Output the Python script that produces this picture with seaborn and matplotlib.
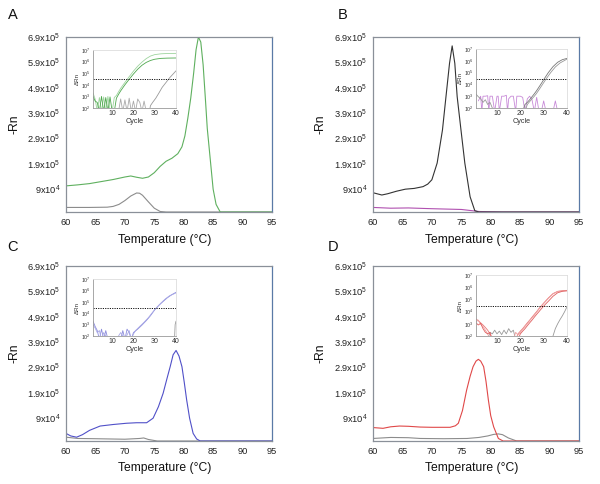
import numpy as np
import pandas as pd
import matplotlib
matplotlib.use("Agg")
import matplotlib.pyplot as plt
import seaborn as sns

sns.set_theme(style="white")
plt.rcParams['font.family'] = ['Liberation Sans', 'DejaVu Sans']
plt.rcParams['mathtext.fontset'] = 'custom'
plt.rcParams['mathtext.rm'] = 'Liberation Sans'
plt.rcParams['mathtext.it'] = 'Liberation Sans:italic'
plt.rcParams['mathtext.bf'] = 'Liberation Sans:bold'

# ---------------- melt curves (temperature in °C, -Rn in units of 1e5) -------------
A_green_t = [60, 62, 64, 66, 68, 70, 71, 72, 73, 74, 75, 76, 77, 78, 79, 79.7, 80.2, 80.7, 81.2,
             81.7, 82.1, 82.5, 82.9, 83.3, 83.7, 84.0, 84.5, 85.0, 85.5, 86.2, 95]
A_green_v = [1.03, 1.07, 1.12, 1.2, 1.28, 1.38, 1.42, 1.37, 1.33, 1.38, 1.55, 1.8, 2.0, 2.12, 2.3,
             2.57, 3.0, 3.7, 4.5, 5.5, 6.4, 6.9, 6.7, 5.8, 4.4, 3.3, 2.1, 0.9, 0.3, 0.0, 0.0]
A_gray_t = [60, 64, 67, 68, 69, 70, 71, 72, 72.5, 73, 74, 75, 76, 77, 95]
A_gray_v = [0.18, 0.18, 0.19, 0.22, 0.3, 0.45, 0.63, 0.75, 0.74, 0.66, 0.4, 0.15, 0.02, 0.0, 0.0]

B_black_t = [60, 61, 61.5, 62.5, 64, 65.5, 67, 68.5, 69.3, 70.0, 70.9, 71.8, 72.4, 73.0, 73.45,
             73.9, 74.3, 74.95, 75.6, 76.5, 77.3, 78, 95]
B_black_v = [0.76, 0.7, 0.67, 0.72, 0.82, 0.9, 0.93, 1.0, 1.1, 1.27, 1.93, 3.23, 4.55, 5.86, 6.55,
             5.86, 4.55, 3.23, 1.93, 0.6, 0.05, 0.0, 0.0]
B_mag_t = [60, 63, 66, 70, 75, 78, 82, 95]
B_mag_v = [0.18, 0.15, 0.16, 0.13, 0.1, 0.02, 0.0, 0.0]

C_blue_t = [60, 60.8, 61.8, 62.8, 64, 65.8, 68, 70.3, 72, 73.7, 74.8, 75.7, 76.5, 77.2, 77.7,
            78.2, 78.7, 79.2, 79.7, 80.1, 80.5, 81.0, 81.6, 82.2, 82.8, 95]
C_blue_v = [0.30, 0.2, 0.15, 0.25, 0.42, 0.59, 0.65, 0.70, 0.72, 0.72, 0.9, 1.35, 1.88, 2.5, 2.93,
            3.4, 3.57, 3.35, 2.93, 2.3, 1.62, 0.9, 0.3, 0.08, 0.0, 0.0]
C_gray_t = [60, 62, 65, 70, 72.5, 73.2, 74, 75.5, 95]
C_gray_v = [0.15, 0.1, 0.09, 0.07, 0.1, 0.12, 0.06, 0.0, 0.0]

D_red_t = [60, 61.7, 63, 64.5, 66, 68, 70, 73.1, 74.0, 74.5, 75.2, 75.9, 76.5, 77.0, 77.5, 77.9,
           78.3, 78.8, 79.2, 79.6, 80.0, 80.5, 81.3, 82.1, 95]
D_red_v = [0.53, 0.5, 0.56, 0.59, 0.58, 0.55, 0.54, 0.54, 0.6, 0.7, 1.2, 2.0, 2.55, 2.93, 3.15, 3.22,
           3.15, 2.93, 2.35, 1.62, 1.0, 0.56, 0.1, 0.0, 0.0]
D_gray_t = [60, 63, 66, 68, 72, 76, 78, 79.5, 80.5, 81.3, 82, 83, 84.4, 95]
D_gray_v = [0.1, 0.14, 0.13, 0.1, 0.09, 0.1, 0.14, 0.2, 0.26, 0.28, 0.25, 0.12, 0.0, 0.0]

y_ticks = [0.9e5, 1.9e5, 2.9e5, 3.9e5, 4.9e5, 5.9e5, 6.9e5]
y_tick_labels = ['9x10$^4$', '1.9x10$^5$', '2.9x10$^5$', '3.9x10$^5$', '4.9x10$^5$',
                 '5.9x10$^5$', '6.9x10$^5$']
x_ticks = [60, 65, 70, 75, 80, 85, 90, 95]

# ---------------- amplification insets (cycle, ΔRn) ----------------
A_in_g1_c = [1, 2, 3, 4, 5, 6, 7, 8, 9, 10, 11, 12, 13, 14, 15, 16, 18, 20, 22, 24, 26, 28, 30, 33, 36, 40]
A_in_g1_v = [2e3, 6e2, 50, 8e2, 50, 9e2, 50, 1e3, 50, 50, 8e2, 1.2e3, 2.5e3, 5e3, 9e3, 1.6e4, 5e4,
             1.5e5, 4e5, 9e5, 1.8e6, 3e6, 4e6, 4.7e6, 5e6, 5.1e6]
A_in_g2_c = [1, 2, 3, 4, 5, 6, 7, 8, 9, 10, 11, 12, 13, 14, 15, 16, 18, 20, 22, 24, 26, 28, 30, 33, 36, 40]
A_in_g2_v = [1e3, 4e2, 3e2, 50, 1e3, 50, 8e2, 50, 9e2, 50, 50, 7e2, 1.5e3, 3e3, 5.5e3, 1e4, 3e4,
             8.5e4, 2.2e5, 4.8e5, 8.5e5, 1.25e6, 1.6e6, 1.9e6, 2e6, 2.05e6]
A_in_gn_c = [13, 14, 15, 16, 17, 18, 19, 20, 21, 22, 23, 24, 25, 26]
A_in_gn_v = [50, 6e2, 50, 5e2, 50, 7e2, 50, 4e2, 50, 6e2, 3e2, 50, 4e2, 50]
A_in_gc_c = [27.5, 28, 29, 30.5, 32, 33.5, 35.2, 37, 40]
A_in_gc_v = [50, 1.6e2, 3e2, 7e2, 2e3, 6e3, 1.5e4, 4e4, 1.6e5]

B_in_k1_c = [21, 22, 23, 24, 25, 26, 27, 28, 29, 30, 32, 34, 36, 38, 40]
B_in_k1_v = [50, 2e2, 3e2, 5e2, 9e2, 1.6e3, 3e3, 6e3, 1.2e4, 2.5e4, 1e5, 3.2e5, 7.5e5, 1.25e6, 1.6e6]
B_in_k2_c = [22, 23, 24, 25, 26, 27, 28, 29, 30, 31, 33, 35, 37, 40]
B_in_k2_v = [50, 2e2, 3.5e2, 6e2, 1e3, 1.8e3, 3.5e3, 7e3, 1.4e4, 2.8e4, 1e5, 3e5, 6.5e5, 1.4e6]
B_in_kn_c = [1, 2, 3, 4, 5, 6, 7, 8, 9]
B_in_kn_v = [1.5e3, 9e2, 6e2, 3e2, 5e2, 2e2, 3e2, 1e2, 50]
B_in_m_c = [2, 3, 3.5, 4, 5, 6, 6.5, 7, 8, 9, 10, 10.5, 11, 12, 13, 14, 14.5, 15, 16, 17, 18, 18.5,
            19, 20, 21, 22, 23, 24, 25, 26, 27, 28, 29, 30, 31, 32, 33, 34, 35, 36]
B_in_m_v = [4e2, 1e3, 50, 1e3, 1e3, 1.1e3, 50, 1e3, 1e3, 50, 1e3, 1e3, 50, 1e3, 1e3, 1.2e3, 50, 6e2,
            1e3, 1e3, 50, 1e3, 1e3, 1e3, 8e2, 50, 6e2, 1e3, 5e2, 50, 8e2, 50, 50, 4e2, 50, 50, 50,
            50, 4e2, 50]

C_in_b1_c = [1, 2, 3, 4, 5, 6, 7, 8, 9, 10, 11, 12, 13, 14, 15, 16, 17, 18, 19, 20, 22, 24, 26, 28,
             30, 32, 34, 36, 38, 40]
C_in_b1_v = [2e3, 7e2, 3e2, 50, 4e2, 50, 3e2, 50, 50, 50, 50, 50, 50, 50, 3e2, 50, 4e2, 2e2, 50,
             2e2, 4e2, 9e2, 2.2e3, 6e3, 2e4, 5e4, 1.1e5, 2.3e5, 4.2e5, 6.8e5]
C_in_b2_c = [1, 2, 3, 4, 5, 6, 8, 10, 12, 14, 16, 18, 19, 20, 21, 23, 25, 27, 29, 31, 33, 35, 37, 40]
C_in_b2_v = [1e3, 5e2, 2e2, 3e2, 50, 2e2, 50, 50, 50, 2e2, 50, 3e2, 50, 1.5e2, 3e2, 7e2, 1.6e3,
             4e3, 1.2e4, 3.2e4, 8e4, 1.8e5, 3.4e5, 6e5]
C_in_g_c = [39.3, 39.6, 40]
C_in_g_v = [50, 1e3, 2e3]

D_in_r1_c = [1, 2, 3, 4, 5, 6, 7, 8, 18, 19, 20, 21, 22, 23, 24, 25, 26, 27, 28, 29, 30, 32, 34,
             36, 38, 40]
D_in_r1_v = [2.5e3, 1.8e3, 1.2e3, 8e2, 5e2, 3e2, 1.5e2, 50, 50, 1.5e2, 2.5e2, 4e2, 7e2, 1.2e3,
             2e3, 3.5e3, 6e3, 1e4, 1.8e4, 3e4, 5e4, 1.3e5, 3e5, 4.6e5, 5.2e5, 5.5e5]
D_in_r2_c = [1, 2, 3, 4, 5, 6, 7, 17, 18, 19, 20, 21, 22, 23, 24, 25, 26, 27, 28, 29, 30, 32, 34,
             36, 38, 40]
D_in_r2_v = [1.5e3, 2e3, 9e2, 6e2, 3e2, 1.5e2, 50, 50, 2e2, 1.2e2, 2e2, 3.5e2, 6e2, 1e3, 1.8e3,
             3e3, 5e3, 9e3, 1.6e4, 2.7e4, 4.5e4, 1.2e5, 2.8e5, 4.3e5, 5e5, 5.3e5]
D_in_r3_c = [1, 2, 3, 4, 5, 6, 7, 8, 19, 20, 21, 22, 23, 24, 25, 26, 27, 28, 29, 30, 31, 32, 34,
             36, 38, 40]
D_in_r3_v = [1.2e3, 8e2, 1.1e3, 4e2, 2e2, 1.5e2, 2e2, 50, 50, 1.5e2, 2.5e2, 4e2, 7e2, 1.2e3, 2e3,
             3.5e3, 6e3, 1e4, 1.7e4, 2.8e4, 4.5e4, 7e4, 1.8e5, 3.5e5, 4.6e5, 5e5]
D_in_gn_c = [6, 7, 8, 9, 10, 11, 12, 13, 14, 15, 16, 17, 18]
D_in_gn_v = [50, 2e2, 1.5e2, 3e2, 1.5e2, 2.5e2, 1.3e2, 3e2, 1.5e2, 4e2, 2e2, 3e2, 50]
D_in_gc_c = [33.5, 34, 35, 36, 37, 38, 39, 40]
D_in_gc_v = [50, 1e2, 4e2, 1e3, 2.2e3, 4.5e3, 1e4, 2.5e4]

threshold = 3e4
in_y_ticks = [1e2, 1e3, 1e4, 1e5, 1e6, 1e7]
in_y_labels = ['10$^2$', '10$^3$', '10$^4$', '10$^5$', '10$^6$', '10$^7$']
in_x_ticks = [10, 20, 30, 40]

# ---------------- drawing ----------------
W, H = 600, 484
fig = plt.figure(figsize=(6.0, 4.84), dpi=100)
fig.patch.set_facecolor('white')


def rect(x0, y0, x1, y1):
    return [x0 / W, 1 - y1 / H, (x1 - x0) / W, (y1 - y0) / H]


def line(ax, xs, ys, color, lw, scale=1.0):
    df = pd.DataFrame({'x': xs, 'y': np.asarray(ys, dtype=float) * scale})
    sns.lineplot(data=df, x='x', y='y', ax=ax, color=color, linewidth=lw,
                 estimator=None, sort=False)


def main_panel(box, curves):
    ax = fig.add_axes(rect(*box))
    for xs, ys, c in curves:
        line(ax, xs, ys, c, 0.8, 1e5)
    ax.set_xlim(60, 95)
    ax.set_ylim(0, 6.9e5)
    ax.set_xticks(x_ticks)
    ax.set_xticklabels([str(v) for v in x_ticks])
    ax.set_yticks(y_ticks)
    ax.set_yticklabels(y_tick_labels)
    ax.tick_params(length=0, labelsize=6.7, pad=4, colors='#222222')
    for s in ax.spines.values():
        s.set_color('#8a9099')
        s.set_linewidth(0.9)
    ax.spines['right'].set_color('#5a7aa6')
    ax.set_xlabel('Temperature (°C)', fontsize=8.7, color='#111111')
    ax.set_ylabel('-Rn', fontsize=8.7, color='#111111')
    ax.xaxis.label.set_va('center')
    ax.yaxis.label.set_va('center')
    wpx = box[2] - box[0]
    hpx = box[3] - box[1]
    ax.xaxis.set_label_coords(0.48, -27.5 / hpx)
    ax.yaxis.set_label_coords(-52.0 / wpx, 0.5)
    return ax


def inset(box, curves):
    ax = fig.add_axes(rect(*box))
    for xs, ys, c in curves:
        line(ax, xs, ys, c, 0.6)
    ax.axhline(threshold, color='#111111', lw=0.7, ls=(0, (1.2, 1.2)))
    ax.set_yscale('log')
    ax.set_ylim(1e2, 1e7)
    ax.set_xlim(1, 40)
    ax.set_xticks(in_x_ticks)
    ax.set_xticklabels([str(v) for v in in_x_ticks])
    ax.set_yticks(in_y_ticks)
    ax.set_yticklabels(in_y_labels)
    ax.minorticks_off()
    ax.tick_params(axis='y', length=0, labelsize=3.8, pad=1.5, colors='#333333')
    ax.tick_params(axis='x', length=0, labelsize=5, pad=1.5, colors='#333333')
    for s in ax.spines.values():
        s.set_color('#dddddd')
        s.set_linewidth(0.6)
    ax.spines['left'].set_color('#999999')
    ax.spines['bottom'].set_color('#999999')
    ax.set_xlabel('Cycle', fontsize=5.2, labelpad=0.5, color='#333333')
    ax.set_ylabel('ΔRn', fontsize=4.5, labelpad=0.5, color='#333333')
    return ax


GREEN = '#5fb05f'
GRAY = '#8c8c8c'
BLACK = '#333333'
MAG = '#b050b0'
BLUE = '#5050c8'
RED = '#e04848'

main_panel((66, 37, 272, 212), [(A_gray_t, A_gray_v, GRAY), (A_green_t, A_green_v, GREEN)])
main_panel((373, 37, 579, 212), [(B_mag_t, B_mag_v, MAG), (B_black_t, B_black_v, BLACK)])
main_panel((66, 266, 272, 441), [(C_gray_t, C_gray_v, GRAY), (C_blue_t, C_blue_v, BLUE)])
main_panel((373, 266, 579, 441), [(D_gray_t, D_gray_v, GRAY), (D_red_t, D_red_v, RED)])

inset((93, 50, 176, 108), [(A_in_gn_c, A_in_gn_v, '#aaaaaa'), (A_in_gc_c, A_in_gc_v, '#999999'),
                           (A_in_g1_c, A_in_g1_v, '#9fd49f'), (A_in_g2_c, A_in_g2_v, '#4ea84e')])
inset((476, 49, 567, 108), [(B_in_m_c, B_in_m_v, '#c88ad8'), (B_in_kn_c, B_in_kn_v, '#999999'),
                            (B_in_k1_c, B_in_k1_v, '#777777'), (B_in_k2_c, B_in_k2_v, '#999999')])
inset((93, 279, 176, 336), [(C_in_g_c, C_in_g_v, '#999999'), (C_in_b1_c, C_in_b1_v, '#8c8cdc'),
                            (C_in_b2_c, C_in_b2_v, '#a8a8e6')])
inset((476, 275, 567, 336), [(D_in_gn_c, D_in_gn_v, '#999999'), (D_in_gc_c, D_in_gc_v, '#999999'),
                             (D_in_r1_c, D_in_r1_v, '#e87878'), (D_in_r2_c, D_in_r2_v, '#f0a0a0'),
                             (D_in_r3_c, D_in_r3_v, '#e06060')])

for lab, x, y in [('A', 8, 15), ('B', 338, 15), ('C', 7, 247), ('D', 328, 247)]:
    fig.text(x / W, 1 - y / H, lab, fontsize=10.5, ha='left', va='center', color='#111111')

fig.savefig('out.png', dpi=100, facecolor='white')
